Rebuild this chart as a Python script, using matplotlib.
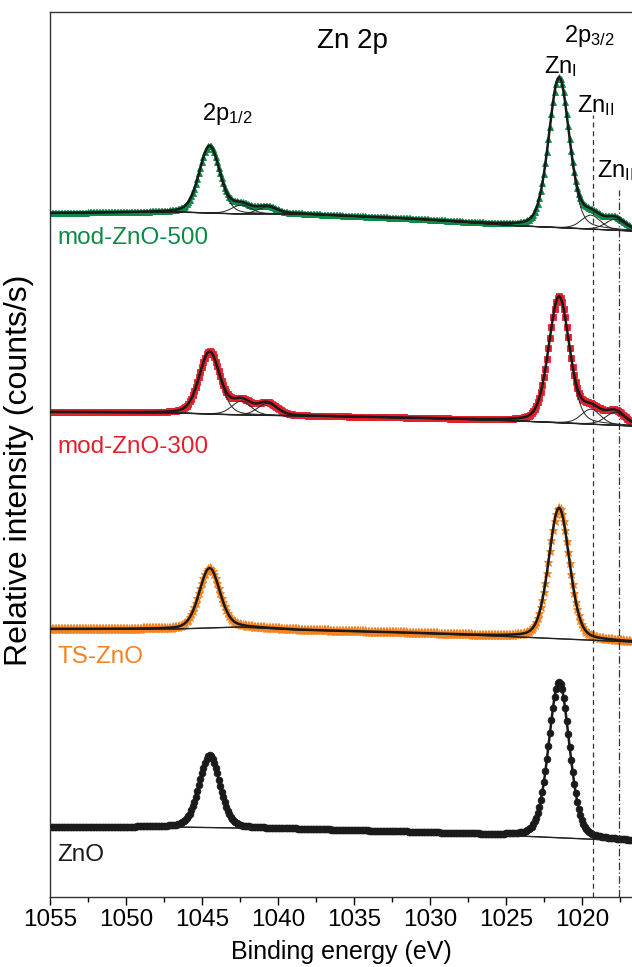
import numpy as np
import matplotlib
matplotlib.use("Agg")
import matplotlib.pyplot as plt
from matplotlib.ticker import MultipleLocator

plt.rcParams['font.family'] = ['Liberation Sans', 'DejaVu Sans']
plt.rcParams['mathtext.fontset'] = 'custom'
plt.rcParams['mathtext.rm'] = 'Liberation Sans'
plt.rcParams['mathtext.it'] = 'Liberation Sans:italic'

# ---------------- data ----------------
samples = ["mod-ZnO-500", "mod-ZnO-300", "TS-ZnO", "ZnO"]
colors = ["#0b8a45", "#e3202b", "#f58220", "#1a1a1a"]
markers = ["^", "s", "*", "o"]
marker_sizes = [4.2, 4.4, 6.5, 4.8]

# component centres (eV): 2p1/2, sat1, sat2, 2p3/2, Zn_II, Zn_III
comp_centers = [1044.5, 1042.4, 1040.7, 1021.5, 1019.4, 1017.8]
comp_fwhm = [1.6, 1.5, 1.5, 1.6, 1.5, 1.5]
# component heights above background (arb. units) for each sample
heights_500 = [67, 9, 7, 150, 14, 11]
heights_300 = [62, 14, 12, 126, 15, 13]
heights_ts = [60, 0, 0, 131, 0, 0]
heights_zno = [72, 0, 0, 156, 0, 0]
heights = [heights_500, heights_300, heights_ts, heights_zno]

# background anchor points (energy, intensity)
bg_energy = [1055.0, 1046.5, 1042.5, 1038.5, 1031.0, 1024.0, 1016.7]
bg_500 = [684, 685, 683, 683, 678, 671, 666]
bg_300 = [485, 484, 482, 481, 479, 476, 471]
bg_ts = [268, 268, 270, 267, 264, 260, 255]
bg_zno = [70, 70, 69, 68, 65, 61, 56]
backgrounds = [bg_500, bg_300, bg_ts, bg_zno]

label_y = [659, 450, 240, 42]

energy_step = 0.1
e_min, e_max = 1016.7, 1055.0
eta = 0.25


def pvoigt(x, c, h, w):
    g = np.exp(-4 * np.log(2) * (x - c) ** 2 / w ** 2)
    l = 1.0 / (1 + 4 * (x - c) ** 2 / w ** 2)
    return h * ((1 - eta) * g + eta * l)


energies = np.arange(e_min, e_max + 1e-9, energy_step)

# ---------------- figure ----------------
W, H = 632, 967
fig = plt.figure(figsize=(W / 100, H / 100), dpi=100)
ax = fig.add_axes([50 / W, (H - 897) / H, 1 - 50 / W, (897 - 12) / H])

for name, col, mk, ms, hts, bgv, ly in zip(samples, colors, markers, marker_sizes,
                                          heights, backgrounds, label_y):
    bg = np.interp(energies, bg_energy[::-1], bgv[::-1])
    comps = [pvoigt(energies, c, h, w) for c, h, w in zip(comp_centers, hts, comp_fwhm)]
    envelope = bg + np.sum(comps, axis=0)
    ax.plot(energies, envelope, linestyle='none', marker=mk, ms=ms, mfc=col,
            mec=col, mew=0.6, zorder=2)
    ax.plot(energies, bg, color='#222222', lw=1.0, zorder=3)
    for comp, h in zip(comps, hts):
        if h > 0:
            ax.plot(energies, bg + comp, color='#222222', lw=0.7, zorder=3)
    ax.plot(energies, envelope, color='#1a1a1a', lw=1.8, zorder=4)
    ax.text(1054.5, ly, name, color=col, fontsize=17.5, ha='left', va='center')

# reference lines
ax.axvline(1019.28, ymin=0, ymax=(897 - 115) / 885, color='#333333', lw=0.9,
           linestyle=(0, (4, 3)))
ax.axvline(1017.57, ymin=0, ymax=(897 - 190) / 885, color='#333333', lw=0.9,
           linestyle=(0, (6, 2, 1, 2)))

# annotations
ax.text(1035.1, 856, "Zn 2p", fontsize=20, ha='center', va='center')
ax.text(1043.3, 777, r"2p$_\mathregular{1/2}$", fontsize=17, ha='center', va='baseline')
ax.text(1019.5, 855, r"2p$_\mathregular{3/2}$", fontsize=17, ha='center', va='baseline')
ax.text(1021.4, 824, r"Zn$_\mathregular{I}$", fontsize=17, ha='center', va='baseline')
ax.text(1020.3, 785, r"Zn$_\mathregular{II}$", fontsize=17, ha='left', va='baseline')
ax.text(1019.0, 720, r"Zn$_\mathregular{III}$", fontsize=17, ha='left', va='baseline')

ax.set_xlim(e_max, e_min)
ax.set_ylim(0, 885)
ax.xaxis.set_major_locator(MultipleLocator(5))
ax.xaxis.set_minor_locator(MultipleLocator(2.5))
ax.tick_params(axis='x', which='major', direction='out', length=6, width=1,
               labelsize=17.5, pad=3)
ax.tick_params(axis='x', which='minor', direction='out', length=3.5, width=1)
ax.set_yticks([])
ax.spines['right'].set_visible(False)
for s in ['left', 'top', 'bottom']:
    ax.spines[s].set_linewidth(1.0)
    ax.spines[s].set_color('#333333')
ax.set_xlabel("Binding energy (eV)", fontsize=18, labelpad=6)
ax.set_ylabel("Relative intensity (counts/s)", fontsize=23)
ax.yaxis.set_label_coords(-16 / (W - 50), (897 - 470) / 885)

fig.savefig("out.png", dpi=100)
